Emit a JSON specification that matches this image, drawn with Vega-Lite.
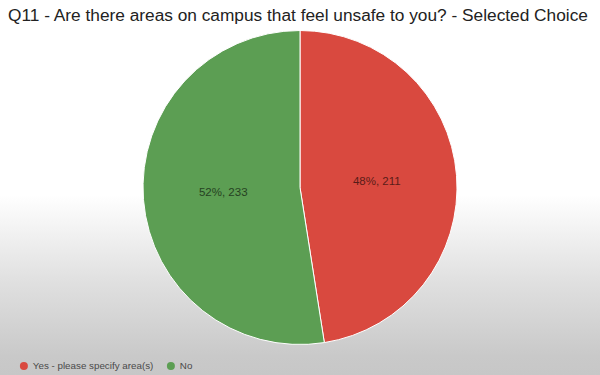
{
  "$schema": "https://vega.github.io/schema/vega-lite/v6.json",
  "width": 600,
  "height": 375,
  "padding": 0,
  "autosize": {"type": "none"},
  "title": {
    "text": "Q11 - Are there areas on campus that feel unsafe to you? - Selected Choice",
    "anchor": "start",
    "offset": -24,
    "dx": 8,
    "fontSize": 17.3,
    "fontWeight": "normal",
    "font": "Liberation Sans",
    "color": "#222222"
  },
  "config": {"view": {"stroke": null}},
  "layer": [
    {
      "data": {"values": [{"bg": 1}]},
      "mark": {
        "type": "rect",
        "color": {
          "gradient": "linear",
          "x1": 0, "y1": 0, "x2": 0, "y2": 1,
          "stops": [
            {"offset": 0, "color": "#ffffff"},
            {"offset": 0.52, "color": "#ffffff"},
            {"offset": 0.75, "color": "#e0e0e0"},
            {"offset": 0.95, "color": "#c9c9c9"},
            {"offset": 1, "color": "#c7c7c7"}
          ]
        }
      },
      "encoding": {}
    },
    {
      "data": {
        "values": [
          {"answer": "Yes - please specify area(s)", "count": 211, "label": "48%, 211", "order": 1},
          {"answer": "No", "count": 233, "label": "52%, 233", "order": 2}
        ]
      },
      "encoding": {
        "theta": {"field": "count", "type": "quantitative", "stack": true},
        "order": {"field": "order", "type": "quantitative"}
      },
      "layer": [
        {
          "mark": {"type": "arc", "outerRadius": 157, "stroke": "#ffffff", "strokeWidth": 1},
          "encoding": {
            "color": {
              "field": "answer",
              "type": "nominal",
              "sort": ["Yes - please specify area(s)", "No"],
              "scale": {"domain": ["Yes - please specify area(s)", "No"], "range": ["#d9493f", "#5c9e53"]},
              "legend": {
                "title": null,
                "orient": "none",
                "direction": "horizontal",
                "symbolType": "circle",
                "symbolSize": 64,
                "symbolStrokeWidth": 0,
                "labelFontSize": 9.8,
                "labelFont": "Liberation Sans",
                "labelColor": "#4a4a4a",
                "columnPadding": 12,
                "padding": 0,
                "legendX": 19,
                "legendY": 361
              }
            }
          }
        },
        {
          "mark": {"type": "text", "radius": 77, "fontSize": 11.5, "font": "Liberation Sans", "fill": "#000000", "opacity": 0.6},
          "encoding": {
            "text": {"field": "label", "type": "nominal"}
          }
        }
      ]
    }
  ]
}
